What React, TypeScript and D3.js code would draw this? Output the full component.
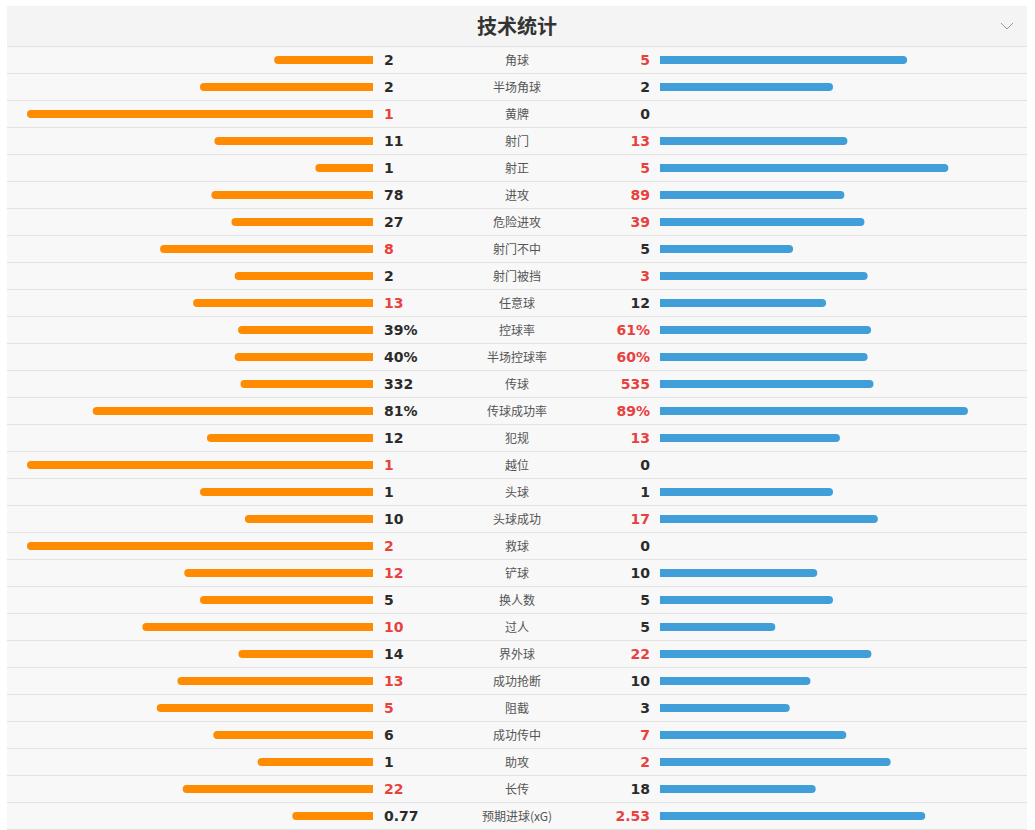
import { useEffect, useRef } from "react"
import * as d3 from "d3"

// 技术统计数据（主队 / 客队）
const labels = [
  "角球", "半场角球", "黄牌", "射门", "射正", "进攻", "危险进攻", "射门不中", "射门被挡", "任意球",
  "控球率", "半场控球率", "传球", "传球成功率", "犯规", "越位", "头球", "头球成功", "救球", "铲球",
  "换人数", "过人", "界外球", "成功抢断", "阻截", "成功传中", "助攻", "长传", "预期进球(xG)",
]
const homeValues = [2, 2, 1, 11, 1, 78, 27, 8, 2, 13, 39, 40, 332, 81, 12, 1, 1, 10, 2, 12, 5, 10, 14, 13, 5, 6, 1, 22, 0.77]
const awayValues = [5, 2, 0, 13, 5, 89, 39, 5, 3, 12, 61, 60, 535, 89, 13, 0, 1, 17, 0, 10, 5, 5, 22, 10, 3, 7, 2, 18, 2.53]
// 百分比类指标：条形长度直接按百分比
const percentRows = ["控球率", "半场控球率", "传球成功率"]

const ORANGE = "#ff8c00"
const BLUE = "#409fd9"
const RED = "#e8413e"
const DARK = "#2b2b2b"

export default function App() {
  const svgRef = useRef<SVGSVGElement>(null)

  useEffect(() => {
    if (!svgRef.current) return
    d3.select(svgRef.current).selectAll("*").remove()

    const width = 1035
    const height = 830
    const left = 7
    const right = 1027
    const headerTop = 6
    const headerBottom = 46
    const center = 517
    const barMax = 346
    const barH = 8

    const svg = d3.select(svgRef.current).attr("width", width).attr("height", height)

    const rows = labels.map((label, i) => {
      const h = homeValues[i]
      const a = awayValues[i]
      const pct = percentRows.includes(label)
      const sum = h + a
      return {
        label,
        h,
        a,
        pct,
        hShare: pct ? h / 100 : sum ? h / sum : 0,
        aShare: pct ? a / 100 : sum ? a / sum : 0,
      }
    })

    const y = d3.scaleBand<string>()
      .domain(labels)
      .range([headerBottom, headerBottom + labels.length * 27])
      .padding(0)

    const w = d3.scaleLinear().domain([0, 1]).range([0, barMax])

    // 标题栏
    svg.append("rect")
      .attr("x", left).attr("y", headerTop)
      .attr("width", right - left).attr("height", headerBottom - headerTop)
      .attr("fill", "#f4f4f4")
    svg.append("text")
      .attr("x", center).attr("y", 34)
      .attr("text-anchor", "middle")
      .attr("font-family", "'Noto Sans CJK SC', sans-serif")
      .attr("font-size", 20).attr("font-weight", 700)
      .attr("fill", "#333")
      .text("技术统计")
    svg.append("path")
      .attr("d", "M1001,23 L1007,29 L1013,23")
      .attr("fill", "none").attr("stroke", "#999").attr("stroke-width", 1)

    // 行背景
    svg.append("rect")
      .attr("x", left).attr("y", headerBottom)
      .attr("width", right - left).attr("height", labels.length * 27)
      .attr("fill", "#f8f8f8")

    const g = svg.selectAll("g.row")
      .data(rows)
      .enter().append("g")
      .attr("class", "row")
      .attr("transform", d => `translate(0,${y(d.label)})`)

    g.append("line")
      .attr("x1", left).attr("x2", right)
      .attr("y1", 0.5).attr("y2", 0.5)
      .attr("stroke", "#e2e2e2")

    const bw = y.bandwidth()
    const by = bw / 2 - barH / 2 + 0.5
    const r = barH / 2

    // 主队条（左侧，外端圆角）
    g.filter(d => d.hShare > 0).append("path")
      .attr("fill", ORANGE)
      .attr("d", d => {
        const len = w(d.hShare)
        const x1 = 373
        const x0 = x1 - len
        return `M${x1},${by} L${x0 + r},${by} A${r},${r} 0 0 0 ${x0 + r},${by + barH} L${x1},${by + barH} Z`
      })

    // 客队条（右侧，外端圆角）
    g.filter(d => d.aShare > 0).append("path")
      .attr("fill", BLUE)
      .attr("d", d => {
        const len = w(d.aShare)
        const x0 = 660
        const x1 = x0 + len
        return `M${x0},${by} L${x1 - r},${by} A${r},${r} 0 0 1 ${x1 - r},${by + barH} L${x0},${by + barH} Z`
      })

    const fmt = (v: number, pct: boolean) => (pct ? `${v}%` : `${v}`)

    g.append("text")
      .attr("x", 384).attr("y", bw / 2 + 5.5)
      .attr("font-family", "'DejaVu Sans', sans-serif")
      .attr("font-size", 14).attr("font-weight", 700)
      .attr("fill", d => (d.h > d.a ? RED : DARK))
      .text(d => fmt(d.h, d.pct))

    g.append("text")
      .attr("x", 650).attr("y", bw / 2 + 5.5)
      .attr("text-anchor", "end")
      .attr("font-family", "'DejaVu Sans', sans-serif")
      .attr("font-size", 14).attr("font-weight", 700)
      .attr("fill", d => (d.a > d.h ? RED : DARK))
      .text(d => fmt(d.a, d.pct))

    g.append("text")
      .attr("x", center).attr("y", bw / 2 + 5)
      .attr("text-anchor", "middle")
      .attr("font-family", "'Noto Sans CJK SC', sans-serif")
      .attr("font-size", 12)
      .attr("fill", "#555")
      .text(d => d.label)

    svg.append("line")
      .attr("x1", left).attr("x2", right)
      .attr("y1", headerBottom + labels.length * 27 + 0.5)
      .attr("y2", headerBottom + labels.length * 27 + 0.5)
      .attr("stroke", "#e2e2e2")
  }, [])

  return (
    <div style={{ position: "absolute", left: 0, top: 0, background: "#fff" }}>
      <svg ref={svgRef} style={{ display: "block" }}></svg>
    </div>
  )
}
